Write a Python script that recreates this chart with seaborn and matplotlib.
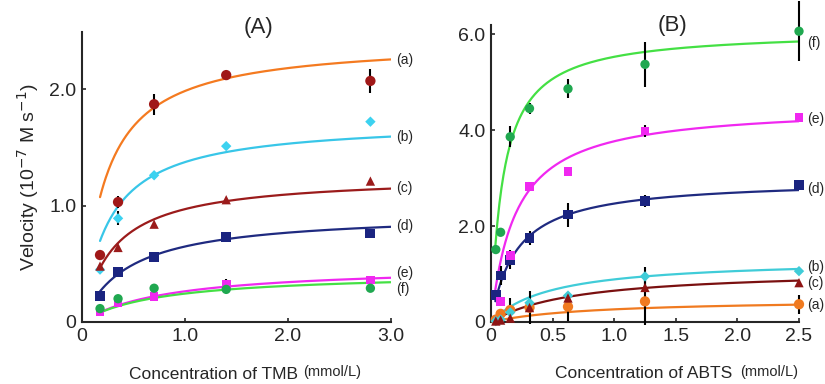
import numpy as np
import pandas as pd
import matplotlib
matplotlib.use("Agg")
import matplotlib.pyplot as plt
import seaborn as sns

# ---------------- data ----------------
series = ["a", "b", "c", "d", "e", "f"]

# Panel A: TMB
tmb_x = [0.175, 0.35, 0.7, 1.4, 2.8]
tmb_a = [0.575, 1.03, 1.87, 2.12, 2.07]
tmb_b = [0.45, 0.89, 1.26, 1.51, 1.72]
tmb_c = [0.48, 0.64, 0.84, 1.05, 1.21]
tmb_d = [0.22, 0.43, 0.56, 0.73, 0.76]
tmb_e = [0.086, 0.17, 0.22, 0.32, 0.36]
tmb_f = [0.115, 0.20, 0.29, 0.28, 0.29]
tmb_err_a = [0, 0.05, 0.09, 0, 0.10]
tmb_err_b = [0, 0.06, 0, 0, 0]
tmb_err_c = [0, 0, 0, 0, 0]
tmb_err_d = [0, 0, 0, 0, 0.04]
tmb_err_e = [0, 0, 0, 0.05, 0]
tmb_err_f = [0, 0, 0, 0, 0]
# Michaelis-Menten fit parameters
tmb_vmax = [2.42, 1.73, 1.26, 0.94, 0.487, 0.427]
tmb_km = [0.22, 0.26, 0.30, 0.45, 0.846, 0.75]
tmb_label_y = [2.25, 1.59, 1.15, 0.82, 0.425, 0.28]

# Panel B: ABTS
abts_x = [0.039, 0.078, 0.156, 0.3125, 0.625, 1.25, 2.5]
abts_a = [0.05, 0.17, 0.25, 0.30, 0.32, 0.43, 0.37]
abts_b = [0.02, 0.05, 0.20, 0.40, 0.55, 0.95, 1.06]
abts_c = [0.02, 0.04, 0.08, 0.30, 0.50, 0.72, 0.82]
abts_d = [0.57, 0.97, 1.30, 1.75, 2.24, 2.52, 2.85]
abts_e = [np.nan, 0.43, 1.38, 2.83, 3.14, 3.98, 4.27]
abts_f = [1.51, 1.87, 3.86, 4.45, 4.86, 5.37, 6.06]
abts_err_a = [0, 0.10, 0.25, 0.35, 0.30, 0.50, 0.20]
abts_err_b = [0, 0, 0, 0, 0, 0.20, 0]
abts_err_c = [0, 0, 0, 0, 0, 0, 0]
abts_err_d = [0, 0.20, 0.20, 0.15, 0.25, 0.12, 0.08]
abts_err_e = [0, 0, 0, 0, 0.10, 0.12, 0.08]
abts_err_f = [0, 0, 0.22, 0.12, 0.20, 0.47, 0.62]
abts_vmax = [0.481, 1.323, 1.10, 2.976, 4.52, 6.08]
abts_km = [0.824, 0.49, 0.686, 0.2056, 0.20, 0.10]
abts_label_y = [0.36, 1.15, 0.82, 2.78, 4.24, 5.82]

# ---------------- styles ----------------
pt_colors_A = ["#A01818", "#3CD2F0", "#9B1B1B", "#1A2480", "#F028F0", "#20A850"]
ln_colors_A = ["#F47A20", "#38C6E8", "#9B1B1B", "#1F2A80", "#F028F0", "#44E044"]
pt_colors_B = ["#F07A20", "#40CCD8", "#8E1414", "#1A2480", "#F028F0", "#20A850"]
ln_colors_B = ["#F07A20", "#40CCD8", "#7A1010", "#1F2A80", "#F028F0", "#44E044"]
markers = ["o", "D", "^", "s", "s", "o"]
markers_B = ["o", "D", "^", "s", "s", "o"]
msizes = [55, 28, 45, 50, 40, 45]

sns.set_style("ticks")
plt.rcParams["font.family"] = ["Liberation Sans", "DejaVu Sans"]

fig = plt.figure(figsize=(8.25, 3.84), dpi=100)
axA = fig.add_axes([82 / 825, 1 - 322 / 384, (391 - 82) / 825, (322 - 32) / 384])
axB = fig.add_axes([491 / 825, 1 - 322 / 384, (799 - 491) / 825, (322 - 25) / 384])


def draw(ax, x, ys, errs, vmax, km, labely, pcols, lcols, mks, xmin, xmax, lab_dx):
    xs = np.linspace(xmin, xmax, 300)
    for i, s in enumerate(series):
        curve = pd.DataFrame({"x": xs, "v": vmax[i] * xs / (km[i] + xs)})
        sns.lineplot(data=curve, x="x", y="v", ax=ax, color=lcols[i], lw=1.6,
                     zorder=2, legend=False)
    for i, s in enumerate(series):
        df = pd.DataFrame({"x": x, "v": ys[i], "e": errs[i]}).dropna()
        e = df[df["e"] > 0]
        ax.errorbar(e["x"], e["v"], yerr=e["e"], fmt="none", ecolor="black",
                    elinewidth=1.5, capsize=0, zorder=3, clip_on=False)
        sns.scatterplot(data=df, x="x", y="v", ax=ax, color=pcols[i], marker=mks[i],
                        s=msizes[i], edgecolor="none", zorder=4, legend=False,
                        clip_on=False)
        ax.annotate(f"({s})", xy=(xmax, labely[i]), xytext=(lab_dx, 0),
                    textcoords="offset points", va="center", ha="left",
                    fontsize=10, annotation_clip=False)


draw(axA, tmb_x, [tmb_a, tmb_b, tmb_c, tmb_d, tmb_e, tmb_f],
     [tmb_err_a, tmb_err_b, tmb_err_c, tmb_err_d, tmb_err_e, tmb_err_f],
     tmb_vmax, tmb_km, tmb_label_y, pt_colors_A, ln_colors_A, markers,
     0.175, 3.0, 4)
draw(axB, abts_x, [abts_a, abts_b, abts_c, abts_d, abts_e, abts_f],
     [abts_err_a, abts_err_b, abts_err_c, abts_err_d, abts_err_e, abts_err_f],
     abts_vmax, abts_km, abts_label_y, pt_colors_B, ln_colors_B, markers_B,
     0.035, 2.5, 6)

# axes A
axA.set_xlim(0, 3.0)
axA.set_ylim(0, 2.49)
axA.set_xticks([0, 1.0, 2.0, 3.0])
axA.set_xticklabels(["0", "1.0", "2.0", "3.0"])
axA.set_yticks([0, 1.0, 2.0])
axA.set_yticklabels(["0", "1.0", "2.0"])
axA.set_xlabel("")
axA.set_ylabel("Velocity (10$^{-7}$ M s$^{-1}$)", fontsize=14, labelpad=6)
axA.text(0.57, 1.017, "(A)", transform=axA.transAxes, ha="center", va="center",
         fontsize=16)
axA.text(0.70, -0.18, "Concentration of TMB", transform=axA.transAxes,
         ha="right", va="center", fontsize=12.5)
axA.text(0.715, -0.172, "(mmol/L)", transform=axA.transAxes,
         ha="left", va="center", fontsize=10.5)

# axes B
axB.set_xlim(0, 2.5)
axB.set_ylim(0, 6.19)
axB.set_xticks([0, 0.5, 1.0, 1.5, 2.0, 2.5])
axB.set_xticklabels(["0", "0.5", "1.0", "1.5", "2.0", "2.5"])
axB.set_yticks([0, 2.0, 4.0, 6.0])
axB.set_yticklabels(["0", "2.0", "4.0", "6.0"])
axB.set_xlabel("")
axB.set_ylabel("")
axB.text(0.59, 1.0, "(B)", transform=axB.transAxes, ha="center", va="center",
         fontsize=16)
axB.text(0.782, -0.175, "Concentration of ABTS", transform=axB.transAxes,
         ha="right", va="center", fontsize=12.5)
axB.text(0.808, -0.167, "(mmol/L)", transform=axB.transAxes,
         ha="left", va="center", fontsize=10.5)

for ax in (axA, axB):
    sns.despine(ax=ax)
    ax.spines["left"].set_linewidth(1.5)
    ax.spines["bottom"].set_linewidth(1.5)
    ax.tick_params(axis="both", direction="in", length=3, width=1.2,
                   labelsize=14, pad=4)

fig.savefig("out.png", dpi=100, facecolor="white")
